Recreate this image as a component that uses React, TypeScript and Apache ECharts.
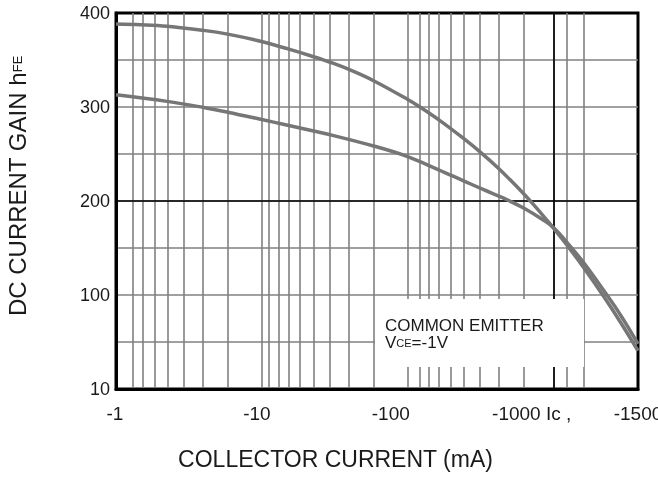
import React, { useEffect, useRef } from "react";
import * as echarts from "echarts";

// ---- data ----
const xMin = 1;
const xMax = 3783;
const xTickValues = [1, 10, 100, 1000, 3783];
const xTickLabels = ["-1", "-10", "-100", "-1000 Ic ,", "-1500"];
const xGridValues = [
  1.12, 1.3, 1.53, 1.84, 2.28, 2.9, 3.95, 5.8, 10,
  11.2, 13, 15.3, 18.3, 22.6, 29, 39.3, 58.3, 100,
  120, 140, 164, 196, 241, 309, 419, 622, 1000,
  1220, 1600, 2230,
];
const yTickValues = [0, 100, 200, 300, 400];
const yTickLabels = ["10", "100", "200", "300", "400"];

const upperIc = [1, 1.47, 2.24, 3.98, 5.82, 9.45, 15.3, 22.6, 31, 42.5, 58.3, 98.7, 122, 167, 241, 314, 409, 531, 616, 728, 899, 974, 1234, 1603, 2198, 2861, 3783];
const upperHfe = [388.3, 387.6, 386, 381.5, 377.5, 370.5, 361.5, 353.5, 346.3, 337.9, 328, 308.5, 299.7, 285.2, 266.5, 252, 236.2, 218.9, 208.5, 196.1, 179.6, 173.1, 153, 129.3, 98.6, 71.3, 40.7];

const lowerIc = [1, 2.24, 3.98, 5.82, 9.45, 15.3, 22.6, 31, 58.3, 98.7, 158.5, 241, 331, 454, 622, 853, 1000, 1234, 1603, 2198, 2861, 3783];
const lowerHfe = [313, 306, 299.5, 294.5, 287.5, 280.3, 274.5, 269.6, 258.5, 247.5, 234, 221.5, 212, 203, 192.5, 179.5, 171.5, 156, 134.5, 105, 79, 48];

const FONT = "'Liberation Sans', Arial, Helvetica, sans-serif";
const TEXT = "#1a1a1a";
const GRID_GRAY = "#808080";
const CURVE = "#767676";

export default function App() {
  const ref = useRef<HTMLDivElement>(null);

  useEffect(() => {
    if (!ref.current) return;
    const chart = echarts.init(ref.current, null, { renderer: "svg" });

    const xLabelShift = [1, 5, 17, 22, 0];
    const xRich: any = {};
    xTickLabels.forEach((_, i) => {
      xRich["l" + i] = {
        fontSize: 19,
        fontFamily: FONT,
        color: TEXT,
        padding: [0, xLabelShift[i] * 2, 0, 0],
      };
    });

    const findX = (v: number) =>
      xTickValues.findIndex((t) => Math.abs(Math.log10(t) - Math.log10(v)) < 1e-4);

    chart.setOption({
      animation: false,
      grid: {
        left: 116,
        right: 20,
        top: 13,
        bottom: 88,
        containLabel: false,
        outerBoundsMode: "none",
        show: true,
        borderColor: "#000",
        borderWidth: 3,
        backgroundColor: "transparent",
      },
      xAxis: {
        type: "log",
        logBase: 10,
        min: xMin,
        max: xMax,
        name: "COLLECTOR CURRENT (mA)",
        nameLocation: "middle",
        nameGap: 58,
        nameTextStyle: {
          fontSize: 23,
          fontFamily: FONT,
          color: TEXT,
          padding: [0, 83, 0, 0],
        },
        axisLine: { show: true, lineStyle: { color: "#000", width: 3 } },
        axisTick: { show: false, customValues: xGridValues },
        minorTick: { show: false },
        minorSplitLine: { show: false },
        splitLine: {
          show: true,
          showMinLine: false,
          showMaxLine: false,
          lineStyle: { color: GRID_GRAY, width: 1.6 },
        },
        axisLabel: {
          customValues: xTickValues,
          margin: 15,
          hideOverlap: false,
          showMinLabel: true,
          showMaxLabel: true,
          formatter: (v: number) => {
            const i = findX(v);
            return i < 0 ? "" : `{l${i}|${xTickLabels[i]}}`;
          },
          rich: xRich,
        },
      },
      yAxis: {
        type: "value",
        min: 0,
        max: 400,
        interval: 50,
        name: "{n|DC CURRENT GAIN h}{s|FE}",
        nameLocation: "middle",
        nameGap: 87,
        nameTextStyle: {
          padding: [0, 0, 0, 30],
          rich: {
            n: { fontSize: 24, fontFamily: FONT, color: TEXT },
            s: { fontSize: 13, fontFamily: FONT, color: TEXT },
          },
        },
        axisLine: { show: true, lineStyle: { color: "#000", width: 3 } },
        axisTick: { show: false },
        splitLine: {
          show: true,
          showMinLine: false,
          showMaxLine: false,
          lineStyle: { color: GRID_GRAY, width: 1.6 },
        },
        axisLabel: {
          margin: 6,
          fontSize: 18,
          fontFamily: FONT,
          color: TEXT,
          formatter: (v: number) => {
            const i = yTickValues.indexOf(v);
            return i < 0 ? "" : yTickLabels[i];
          },
        },
      },
      graphic: [
        {
          type: "rect",
          z: 3,
          shape: { x: 375, y: 299, width: 209, height: 68 },
          style: { fill: "#fff" },
        },
        {
          type: "text",
          z: 6,
          x: 385,
          y: 317,
          style: {
            text: "{a|COMMON EMITTER}\n{a|V}{s|CE}{a|=-1V}",
            rich: {
              a: { fontSize: 17, fontFamily: FONT, fill: TEXT, lineHeight: 17 },
              s: { fontSize: 11, fontFamily: FONT, fill: TEXT, lineHeight: 17 },
            },
          },
        },
      ],
      series: [
        {
          type: "line",
          z: 1,
          data: [],
          silent: true,
          markLine: {
            z: 1,
            silent: true,
            symbol: "none",
            label: { show: false },
            lineStyle: { color: "#000", width: 1.6, type: "solid" },
            data: [{ yAxis: 200 }, { xAxis: 1000 }],
          },
        },
        {
          type: "line",
          z: 4,
          smooth: 0.4,
          showSymbol: false,
          data: upperIc.map((x, i) => [x, upperHfe[i]]),
          lineStyle: { color: CURVE, width: 3.5 },
        },
        {
          type: "line",
          z: 4,
          smooth: 0.4,
          showSymbol: false,
          data: lowerIc.map((x, i) => [x, lowerHfe[i]]),
          lineStyle: { color: CURVE, width: 3.5 },
        },
      ],
    });

    return () => chart.dispose();
  }, []);

  return (
    <div
      ref={ref}
      style={{ position: "fixed", left: 0, top: 0, width: 658, height: 477 }}
    />
  );
}
